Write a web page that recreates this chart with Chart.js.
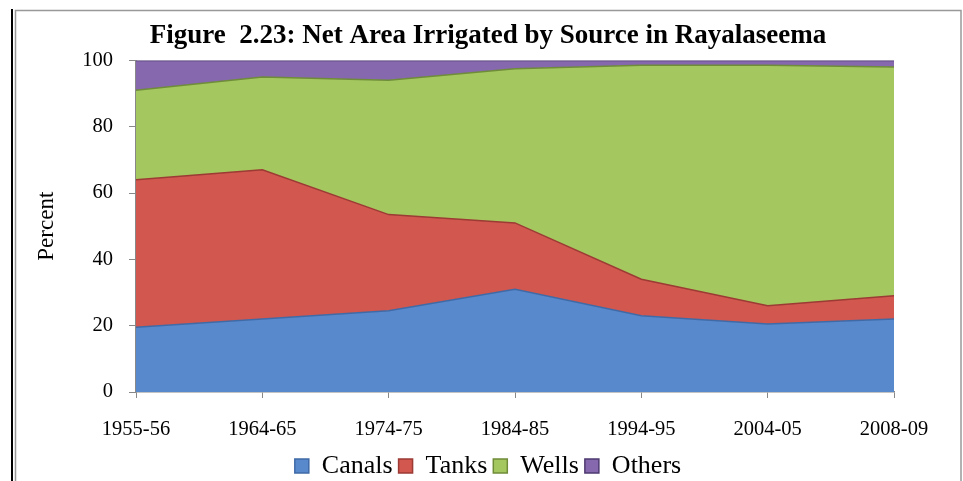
<!DOCTYPE html>
<html>
<head>
<meta charset="utf-8">
<script src="https://cdn.jsdelivr.net/npm/chart.js@4"></script>
<style>
  html, body { margin: 0; padding: 0; background: #fff; }
  #wrap { width: 963px; height: 481px; position: relative; }
</style>
</head>
<body>
<div id="wrap"><canvas id="areaChart" width="963" height="481"></canvas></div>
<script>
// data (percent shares)
var years = ['1955-56', '1964-65', '1974-75', '1984-85', '1994-95', '2004-05', '2008-09'];
var canals = [19.5, 22, 24.5, 31, 23, 20.5, 22];
var tanks = [44.5, 45, 29, 20, 11, 5.5, 7];
var wells = [27, 28, 40.5, 46.5, 64.5, 72.5, 69];
var others = [9, 5, 6, 2.5, 1.5, 1.5, 2];
var yTicks = [0, 20, 40, 60, 80, 100];

var serif = "'Liberation Serif', 'Times New Roman', serif";

// frame lines around the figure
var framePlugin = {
    id: 'frame',
    beforeDraw: function (chart) {
        var c = chart.ctx;
        c.save();
        c.fillStyle = '#fff';
        c.fillRect(0, 0, chart.width, chart.height);
        c.strokeStyle = '#000';
        c.lineWidth = 2;
        c.beginPath();
        c.moveTo(12, 9);
        c.lineTo(12, chart.height);
        c.stroke();
        c.strokeStyle = '#999';
        c.lineWidth = 1.5;
        c.beginPath();
        c.moveTo(15.5, chart.height);
        c.lineTo(15.5, 10.5);
        c.lineTo(961, 10.5);
        c.lineTo(961, chart.height);
        c.stroke();
        c.restore();
    }
};

function area(label, data, fill, line, fillMode) {
    return {
        label: label,
        data: data,
        backgroundColor: fill,
        borderColor: line,
        borderWidth: 1.5,
        fill: fillMode,
        pointRadius: 0,
        tension: 0
    };
}

var ctx = document.getElementById('areaChart').getContext('2d');
var areaChart = new Chart(ctx, {
    type: 'line',
    data: {
        labels: years,
        datasets: [
            area('Canals', canals, '#5889cd', '#3f6aa6', 'origin'),
            area('Tanks', tanks, '#d2574f', '#9c3a34', '-1'),
            area('Wells', wells, '#a5c75f', '#6f8c39', '-1'),
            area('Others', others, '#8568ad', '#4e3a70', '-1')
        ]
    },
    plugins: [framePlugin],
    options: {
        responsive: false,
        animation: false,
        devicePixelRatio: 1,
        layout: { padding: { left: 15, right: 2, top: 0, bottom: -8 } },
        plugins: {
            title: {
                display: true,
                text: 'Figure  2.23: Net Area Irrigated by Source in Rayalaseema',
                color: '#000',
                font: { family: serif, size: 27, weight: 'bold' },
                padding: { top: 20, bottom: 8 }
            },
            legend: {
                position: 'bottom',
                labels: {
                    color: '#000',
                    font: { family: serif, size: 26 },
                    boxWidth: 14,
                    boxHeight: 14,
                    padding: 6
                }
            },
            tooltip: { enabled: false }
        },
        scales: {
            x: {
                offset: false,
                grid: { drawOnChartArea: false, color: '#888', tickLength: 6 },
                border: { color: '#888', width: 1.5 },
                ticks: { color: '#000', font: { family: serif, size: 20.5 }, padding: 19, maxRotation: 0, autoSkip: false },
                afterFit: function (s) { s.height = 55; }
            },
            y: {
                stacked: true,
                min: 0,
                max: 100,
                afterBuildTicks: function (s) { s.ticks = yTicks.map(function (v) { return { value: v }; }); },
                grid: { drawOnChartArea: false, color: '#888', tickLength: 7 },
                border: { color: '#888', width: 1.5 },
                ticks: { color: '#000', font: { family: serif, size: 20.5 }, padding: 16 },
                title: { display: true, text: 'Percent', color: '#000', font: { family: serif, size: 23 }, padding: { top: 18, bottom: 0 } },
                afterFit: function (s) { s.width = 121; }
            },
            y2: {
                position: 'right',
                display: true,
                grid: { display: false },
                border: { display: false },
                ticks: { display: false },
                afterFit: function (s) { s.width = 67; }
            }
        }
    }
});
</script>
</body>
</html>
